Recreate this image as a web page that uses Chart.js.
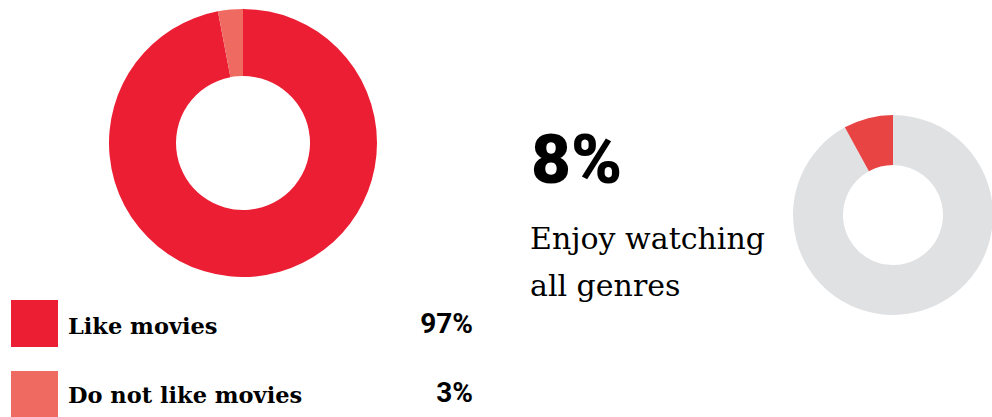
<!DOCTYPE html>
<html>
<head>
<meta charset="utf-8">
<script src="https://cdn.jsdelivr.net/npm/chart.js@4"></script>
<style>
  html, body { margin: 0; padding: 0; background: #fff; }
  body { width: 992px; height: 417px; position: relative; overflow: hidden; }
  canvas { position: absolute; }
  .t { position: absolute; white-space: nowrap; line-height: 1; color: #000; }
  .sw { position: absolute; width: 47px; height: 47px; }
  .lab { font-family: "DejaVu Serif", serif; font-weight: bold; font-size: 22.5px; }
  .pct { font-family: Roboto, sans-serif; font-weight: 700; font-size: 28px; text-align: right; width: 100px; }
  .big { font-family: Roboto, sans-serif; font-weight: 900; font-size: 69px; }
  .desc { font-family: "DejaVu Serif", serif; font-size: 30px; line-height: 47px; }
</style>
</head>
<body>
<canvas id="chart1" width="268" height="268" style="left:109px;top:9px"></canvas>
<canvas id="chart2" width="200" height="200" style="left:793px;top:115px"></canvas>
<div id="legend"></div>
<div class="t big" style="left:531px;top:125px">8%</div>
<div class="t desc" style="left:530px;top:215px">Enjoy watching<br>all genres</div>
<script>
// left doughnut
var movieLabels = ["Like movies", "Do not like movies"];
var movieValues = [97, 3];
var movieColors = ["#EC1E34", "#EF6B62"];

// right doughnut (rest first, so the 8% slice sits left of the top)
var genreLabels = ["Other", "Enjoy watching all genres"];
var genreValues = [92, 8];
var genreColors = ["#E0E1E3", "#E94444"];

var baseOptions = {
  responsive: false,
  devicePixelRatio: 1,
  animation: false,
  cutout: "50%",
  layout: { padding: 0 },
  plugins: { legend: { display: false }, tooltip: { enabled: false } }
};

new Chart(document.getElementById("chart1").getContext("2d"), {
  type: "doughnut",
  data: {
    labels: movieLabels,
    datasets: [{ data: movieValues, backgroundColor: movieColors, borderWidth: 0 }]
  },
  options: baseOptions
});

new Chart(document.getElementById("chart2").getContext("2d"), {
  type: "doughnut",
  data: {
    labels: genreLabels,
    datasets: [{ data: genreValues, backgroundColor: genreColors, borderWidth: 0 }]
  },
  options: baseOptions
});

// legend rows under the left chart
var legend = document.getElementById("legend");
var rowTops = [300, 371];
var baselines = [334, 403];
movieLabels.forEach(function (lab, i) {
  var sw = document.createElement("div");
  sw.className = "sw";
  sw.style.left = "11px";
  sw.style.top = rowTops[i] + "px";
  sw.style.background = movieColors[i];
  legend.appendChild(sw);

  var t = document.createElement("div");
  t.className = "t lab";
  t.style.left = "68px";
  t.style.top = Math.round(baselines[i] - 0.846 * 22.5) + "px";
  t.textContent = lab;
  legend.appendChild(t);

  var p = document.createElement("div");
  p.className = "t pct";
  p.style.left = "373px";
  p.style.top = Math.round(baselines[i] - 0.8415 * 28) + "px";
  p.textContent = movieValues[i] + "%";
  legend.appendChild(p);
});
</script>
</body>
</html>
